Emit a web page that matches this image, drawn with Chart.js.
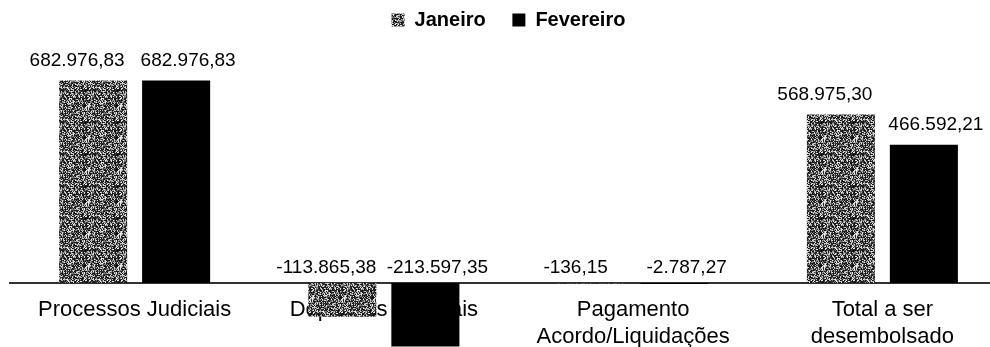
<!DOCTYPE html>
<html>
<head>
<meta charset="utf-8">
<script src="https://cdn.jsdelivr.net/npm/chart.js@4"></script>
<style>
  html, body { margin: 0; background: #fff; overflow: hidden; }
  #wrap { width: 990px; height: 347px; overflow: hidden; }
</style>
</head>
<body>
<div id="wrap"><canvas id="myChart" width="1007" height="347"></canvas></div>
<script>
// dados
const categorias = ['Processos Judiciais', 'Depósitos Judiciais', ['Pagamento', 'Acordo/Liquidações'], ['Total a ser', 'desembolsado']];
const janeiro = [682976.83, -113865.38, -136.15, 568975.30];
const fevereiro = [682976.83, -213597.35, -2787.27, 466592.21];
const series = ['Janeiro', 'Fevereiro'];

// formato brasileiro 1.234,56
function formata(v) {
    const neg = v < 0;
    const partes = Math.abs(v).toFixed(2).split('.');
    const inteiro = partes[0].replace(/\B(?=(\d{3})+(?!\d))/g, '.');
    return (neg ? '-' : '') + inteiro + ',' + partes[1];
}

// textura cinza granulada para Janeiro
function texturaCinza() {
    const c = document.createElement('canvas');
    c.width = 32; c.height = 32;
    const g = c.getContext('2d');
    const img = g.createImageData(32, 32);
    const tons = [15, 25, 35, 45, 60, 120, 170, 200, 230];
    for (let y = 0; y < 32; y++) {
        for (let x = 0; x < 32; x++) {
            let h = Math.imul(x + 1, 374761393) ^ Math.imul(y + 7, 668265263);
            h = Math.imul(h ^ (h >>> 13), 1274126177);
            h = (h ^ (h >>> 16)) >>> 0;
            const t = tons[h % tons.length];
            const i = (y * 32 + x) * 4;
            img.data[i] = t; img.data[i + 1] = t; img.data[i + 2] = t; img.data[i + 3] = 255;
        }
    }
    g.putImageData(img, 0, 0);
    return document.getElementById('myChart').getContext('2d').createPattern(c, 'repeat');
}

const deslocX = [-16, 12]; // rótulos afastados para não se sobreporem

const rotulos = {
    id: 'rotulos',
    afterDatasetsDraw(chart) {
        const ctx = chart.ctx;
        const zero = chart.scales.y.getPixelForValue(0);
        ctx.save();
        ctx.font = '19px "Liberation Sans", Arial, sans-serif';
        ctx.fillStyle = '#000';
        ctx.textAlign = 'center';
        ctx.textBaseline = 'middle';
        chart.data.datasets.forEach((ds, di) => {
            chart.getDatasetMeta(di).data.forEach((bar, i) => {
                const v = ds.data[i];
                const y = v >= 0 ? bar.y - 20 : zero - 15;
                ctx.fillText(formata(v), bar.x + deslocX[di], y);
            });
        });
        ctx.restore();
    }
};

const ctx = document.getElementById('myChart').getContext('2d');
const myChart = new Chart(ctx, {
    type: 'bar',
    data: {
        labels: categorias,
        datasets: [{
            label: series[0],
            data: janeiro,
            backgroundColor: texturaCinza(),
            categoryPercentage: 0.666,
            barPercentage: 0.82
        }, {
            label: series[1],
            data: fevereiro,
            backgroundColor: '#000000',
            categoryPercentage: 0.666,
            barPercentage: 0.82
        }]
    },
    options: {
        responsive: false,
        animation: false,
        layout: { padding: { left: 10, right: 0, bottom: 0, top: 0 } },
        plugins: {
            tooltip: { enabled: false },
            legend: {
                position: 'top',
                labels: {
                    color: '#000',
                    boxWidth: 13,
                    boxHeight: 13,
                    padding: 10,
                    font: { family: '"Liberation Sans", Arial, sans-serif', size: 20, weight: 'bold' },
                    generateLabels(chart) {
                        const itens = Chart.defaults.plugins.legend.labels.generateLabels(chart);
                        itens.forEach((it, k) => { if (k < itens.length - 1) it.text = it.text + '   '; });
                        return itens;
                    }
                }
            }
        },
        scales: {
            x: {
                position: { y: 0 },
                grid: { display: false, drawTicks: false },
                border: { display: true, color: '#333', width: 2 },
                ticks: {
                    color: '#000',
                    padding: 14,
                    maxRotation: 0,
                    autoSkip: false,
                    font: { family: '"Liberation Sans", Arial, sans-serif', size: 22 }
                }
            },
            y: {
                display: false,
                min: -215500,
                max: 820000
            }
        }
    },
    plugins: [rotulos]
});
</script>
</body>
</html>
